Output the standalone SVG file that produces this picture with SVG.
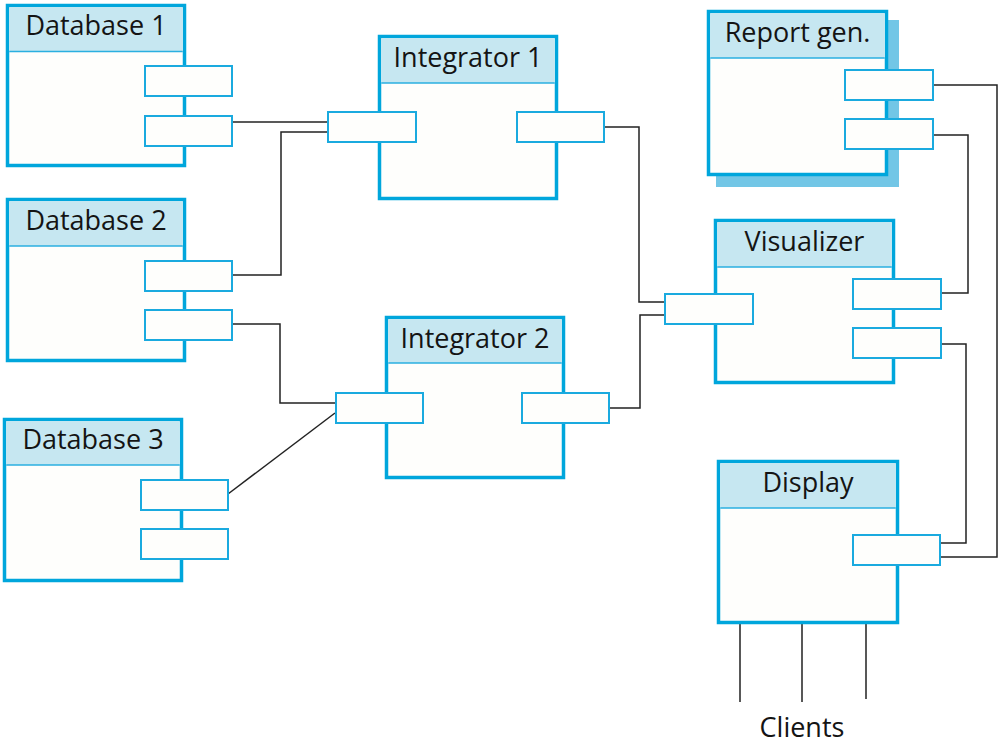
<svg xmlns="http://www.w3.org/2000/svg" width="1002" height="750" viewBox="0 0 1002 750">
<style>
.box{fill:#fefefc;stroke:#00a6dc;stroke-width:3.5}
.hdr{fill:#c6e7f1}
.div{stroke:#2aafe0;stroke-width:1.5}
.port{fill:#fefefc;stroke:#1aaadf;stroke-width:2}
.lbl{font-family:"Open Sans","Noto Sans",sans-serif;font-size:27px;fill:#141414;text-anchor:middle}
.conn{fill:none;stroke:#222;stroke-width:1.5}
.shadow{fill:#72c6e6}
</style>
<rect width="1002" height="750" fill="#ffffff"/>
<g id="connectors">
<path class="conn" d="M232,122 H328"/>
<path class="conn" d="M232,275 H281 V132 H328"/>
<path class="conn" d="M232,324 H280 V403 H336"/>
<path class="conn" d="M228,494 L335,413"/>
<path class="conn" d="M604,127 H639 V302 H665"/>
<path class="conn" d="M609,408 H640 V315 H665"/>
<path class="conn" d="M941,293 H968 V135 H933"/>
<path class="conn" d="M941,344 H966 V543 H940"/>
<path class="conn" d="M933,85 H997 V557 H940"/>
<path class="conn" d="M740,624 V702 M802,624 V702 M866,624 V699"/>
</g>
<g id="database1">
<rect class="box" x="7.5" y="5.5" width="177" height="160"/>
<rect class="hdr" x="9.25" y="7.25" width="173.5" height="44.25"/>
<line class="div" x1="9.25" y1="51.5" x2="182.75" y2="51.5"/>
<text class="lbl" x="96" y="35">Database 1</text>
<rect class="port" x="145" y="66" width="87" height="30"/>
<rect class="port" x="145" y="116" width="87" height="30"/>
</g>
<g id="database2">
<rect class="box" x="7.5" y="199.5" width="177" height="161"/>
<rect class="hdr" x="9.25" y="201.25" width="173.5" height="44.75"/>
<line class="div" x1="9.25" y1="246" x2="182.75" y2="246"/>
<text class="lbl" x="96" y="230">Database 2</text>
<rect class="port" x="145" y="261" width="87" height="30"/>
<rect class="port" x="145" y="310" width="87" height="30"/>
</g>
<g id="database3">
<rect class="box" x="4.5" y="419.5" width="177" height="161"/>
<rect class="hdr" x="6.25" y="421.25" width="173.5" height="43.75"/>
<line class="div" x1="6.25" y1="465" x2="179.75" y2="465"/>
<text class="lbl" x="93" y="449">Database 3</text>
<rect class="port" x="141" y="480" width="87" height="30"/>
<rect class="port" x="141" y="529" width="87" height="30"/>
</g>
<g id="integrator1">
<rect class="box" x="379.5" y="36.5" width="177" height="162"/>
<rect class="hdr" x="381.25" y="38.25" width="173.5" height="44.75"/>
<line class="div" x1="381.25" y1="83" x2="554.75" y2="83"/>
<text class="lbl" x="468" y="67">Integrator 1</text>
<rect class="port" x="328" y="112" width="88" height="30"/>
<rect class="port" x="517" y="112" width="87" height="30"/>
</g>
<g id="integrator2">
<rect class="box" x="386.5" y="317.5" width="177" height="160"/>
<rect class="hdr" x="388.25" y="319.25" width="173.5" height="43.75"/>
<line class="div" x1="388.25" y1="363" x2="561.75" y2="363"/>
<text class="lbl" x="475" y="348">Integrator 2</text>
<rect class="port" x="336" y="393" width="87" height="30"/>
<rect class="port" x="522" y="393" width="87" height="30"/>
</g>
<g id="reportgen">
<rect class="shadow" x="716" y="20" width="183" height="167"/>
<rect class="box" x="708.5" y="11.5" width="178" height="163"/>
<rect class="hdr" x="710.25" y="13.25" width="174.5" height="44.75"/>
<line class="div" x1="710.25" y1="58" x2="884.75" y2="58"/>
<text class="lbl" x="797.5" y="42">Report gen.</text>
<rect class="port" x="845" y="70" width="88" height="30"/>
<rect class="port" x="845" y="119" width="88" height="30"/>
</g>
<g id="visualizer">
<rect class="box" x="715.5" y="220.5" width="178" height="162"/>
<rect class="hdr" x="717.25" y="222.25" width="174.5" height="44.75"/>
<line class="div" x1="717.25" y1="267" x2="891.75" y2="267"/>
<text class="lbl" x="804.5" y="251">Visualizer</text>
<rect class="port" x="665" y="294" width="88" height="30"/>
<rect class="port" x="853" y="279" width="88" height="30"/>
<rect class="port" x="853" y="328" width="88" height="30"/>
</g>
<g id="display">
<rect class="box" x="718.5" y="461.5" width="179" height="161"/>
<rect class="hdr" x="720.25" y="463.25" width="175.5" height="44.75"/>
<line class="div" x1="720.25" y1="508" x2="895.75" y2="508"/>
<text class="lbl" x="808" y="492">Display</text>
<rect class="port" x="853" y="535" width="87" height="30"/>
</g>
<text class="lbl" x="802" y="737">Clients</text>
</svg>
